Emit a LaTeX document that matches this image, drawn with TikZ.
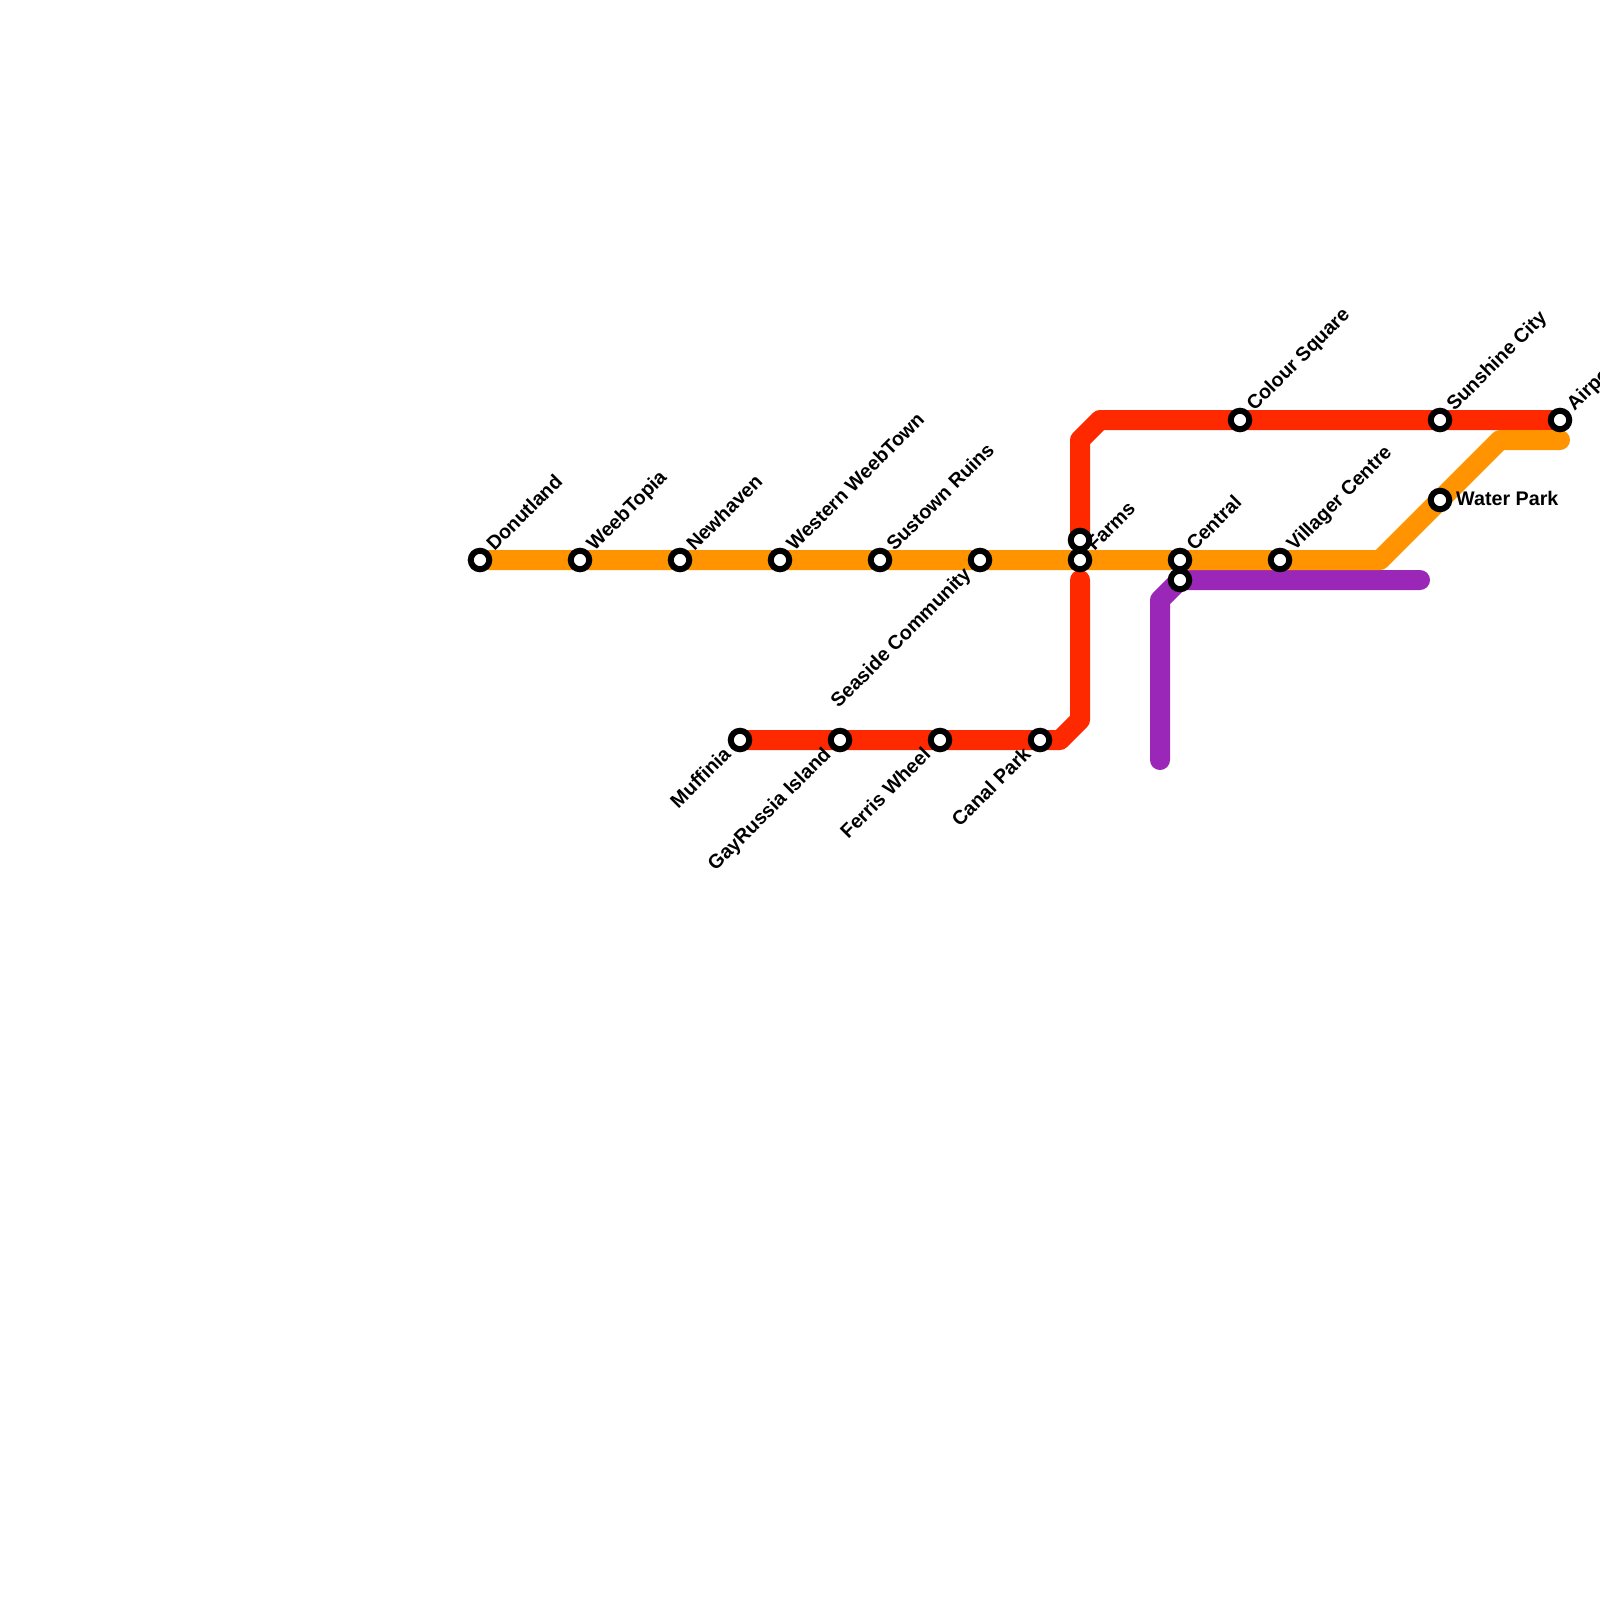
\documentclass[tikz,border=0pt]{standalone}
\usepackage{fontspec}
\setmainfont{Liberation Sans}
\pgfdeclarelayer{lines}
\pgfsetlayers{lines,main}
\definecolor{lineorange}{HTML}{FF9400}
\definecolor{linered}{HTML}{FF2900}
\definecolor{linepurple}{HTML}{9B27B8}
\tikzset{
  stn/.style={circle,draw=black,fill=white,line width=6pt,minimum size=18.5pt,inner sep=0pt,outer sep=0pt},
  route/.style={line width=20pt,line cap=round,line join=round},
  lab/.style={font=\fontsize{19.7}{24}\selectfont\bfseries,inner sep=0pt,text=black},
  labup/.style={lab,rotate=45,anchor=base west},
  labdown/.style={lab,rotate=45,anchor=base east},
}
\begin{document}
\begin{tikzpicture}[x=1pt,y=-1pt]
\useasboundingbox (0,0) rectangle (1600,1600);
\clip (0,0) rectangle (1600,1600);
% labels
\node[labup] (lDonutland) at (494.5,552) {Donutland};
\node[labup] (lWeebTopia) at (594.5,552) {WeebTopia};
\node[labup] (lNewhaven) at (694.5,552) {Newhaven};
\node[labup] (lWestern) at (794.5,552) {Western WeebTown};
\node[labup] (lSustown) at (894.5,552) {Sustown Ruins};
\node[labdown] (lSeaside) at (972,575.5) {Seaside Community};
\node[labup] (lFarms) at (1094.5,552) {Farms};
\node[labup] (lCentral) at (1194.5,552) {Central};
\node[labup] (lVillager) at (1294.5,552) {Villager Centre};
\node[labup] (lColour) at (1254.5,412) {Colour Square};
\node[labup] (lSunshine) at (1454.5,412) {Sunshine City};
\node[labup] (lAirport) at (1574.5,412) {Airport};
\node[lab,anchor=base west] (lWater) at (1456,505) {Water Park};
\node[labdown] (lMuffinia) at (732,755.5) {Muffinia};
\node[labdown] (lGayRussia) at (832,755.5) {GayRussia Island};
\node[labdown] (lFerris) at (932,755.5) {Ferris Wheel};
\node[labdown] (lCanal) at (1032,755.5) {Canal Park};
% stations
\node[stn] (donutland) at (480,560) {};
\node[stn] (weebtopia) at (580,560) {};
\node[stn] (newhaven) at (680,560) {};
\node[stn] (western) at (780,560) {};
\node[stn] (sustown) at (880,560) {};
\node[stn] (seaside) at (980,560) {};
\node[stn] (farmsup) at (1080,540) {};
\node[stn] (farms) at (1080,560) {};
\node[stn] (central) at (1180,560) {};
\node[stn] (centrallow) at (1180,580) {};
\node[stn] (villager) at (1280,560) {};
\node[stn] (colour) at (1240,420) {};
\node[stn] (sunshine) at (1440,420) {};
\node[stn] (airport) at (1560,420) {};
\node[stn] (water) at (1440,500) {};
\node[stn] (muffinia) at (740,740) {};
\node[stn] (gayrussia) at (840,740) {};
\node[stn] (ferris) at (940,740) {};
\node[stn] (canal) at (1040,740) {};
% bends and free ends
\coordinate (obend) at (1380,560);
\coordinate (obendb) at (1500,440);
\coordinate (oend) at (1560,440);
\coordinate (rbenda) at (1060,740);
\coordinate (rbendb) at (1080,720);
\coordinate (rend) at (1080,580);
\coordinate (rbendc) at (1080,440);
\coordinate (rbendd) at (1100,420);
\coordinate (pstart) at (1160,760);
\coordinate (pbend) at (1160,600);
\coordinate (pend) at (1420,580);
\begin{pgfonlayer}{lines}
\fill[white] (0,0) rectangle (1600,1600);
\draw[route,linepurple] (pstart) -- (pbend) -- (centrallow.center) -- (pend);
\draw[route,linered] (muffinia.center) -- (gayrussia.center) -- (ferris.center) -- (canal.center) -- (rbenda) -- (rbendb) -- (rend);
\draw[route,linered] (farmsup.center) -- (rbendc) -- (rbendd) -- (colour.center) -- (sunshine.center) -- (airport.center);
\draw[route,lineorange] (donutland.center) -- (weebtopia.center) -- (newhaven.center) -- (western.center) -- (sustown.center) -- (seaside.center) -- (farms.center) -- (central.center) -- (villager.center) -- (obend) -- (water.center) -- (obendb) -- (oend);
\end{pgfonlayer}
\end{tikzpicture}
\end{document}
